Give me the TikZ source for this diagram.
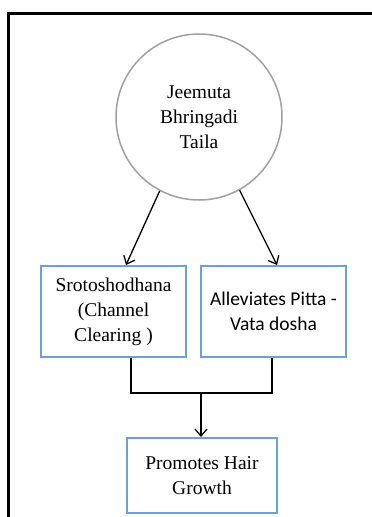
\documentclass[tikz,border=0pt]{standalone}
\usepackage{fontspec}
\setmainfont{Liberation Serif}
\newfontfamily\calibrifont{Carlito}
\usepackage{xcolor}
\usetikzlibrary{arrows.meta}

\definecolor{boxblue}{RGB}{110,160,215}
\definecolor{ringgray}{RGB}{160,160,160}

\tikzset{
  herb/.style={circle, draw=ringgray, line width=1.5pt, minimum size=166pt,
    inner sep=0pt, align=center, font=\fontsize{19.5}{25}\selectfont},
  effect/.style={rectangle, draw=boxblue, line width=2pt, minimum width=145pt,
    minimum height=91pt, inner sep=0pt, align=center,
    font=\fontsize{19.5}{25}\selectfont},
  flow/.style={line width=1.3pt, -{Straight Barb[length=7pt,width=12pt]}},
  merge/.style={line width=2.5pt}
}

\begin{document}
\begin{tikzpicture}[x=1pt,y=-1pt]
  \useasboundingbox (0,0) rectangle (372,517);
  % Draw frame
  \draw[line width=3pt] (8,517) -- (8,13) -- (372,13);

  % Draw the oil and its actions
  \node[herb] (taila) at (199,117) {Jeemuta\\Bhringadi\\Taila};
  \node[effect] (sroto) at (113.5,311.5) {Srotoshodhana\\(Channel\\Clearing )};
  \node[effect, font=\calibrifont\fontsize{19.5}{25}\selectfont] (pitta) at (273.5,311.5) {Alleviates Pitta -\\Vata dosha};
  \node[effect, minimum width=150pt, minimum height=75pt] (hair) at (202,475.5) {Promotes Hair\\Growth};

  % Draw arrows from the oil
  \draw[flow] (taila.-118) -- ([xshift=12.5pt]sroto.north);
  \draw[flow] (taila.-61) -- ([xshift=3.5pt]pitta.north);

  % Join both actions into the result
  \coordinate (join) at (201,393);
  \draw[merge] ([xshift=17.5pt]sroto.south) |- (join) -| ([xshift=-1.5pt]pitta.south);
  \draw[flow] (join) -- (join |- hair.north);
\end{tikzpicture}
\end{document}
